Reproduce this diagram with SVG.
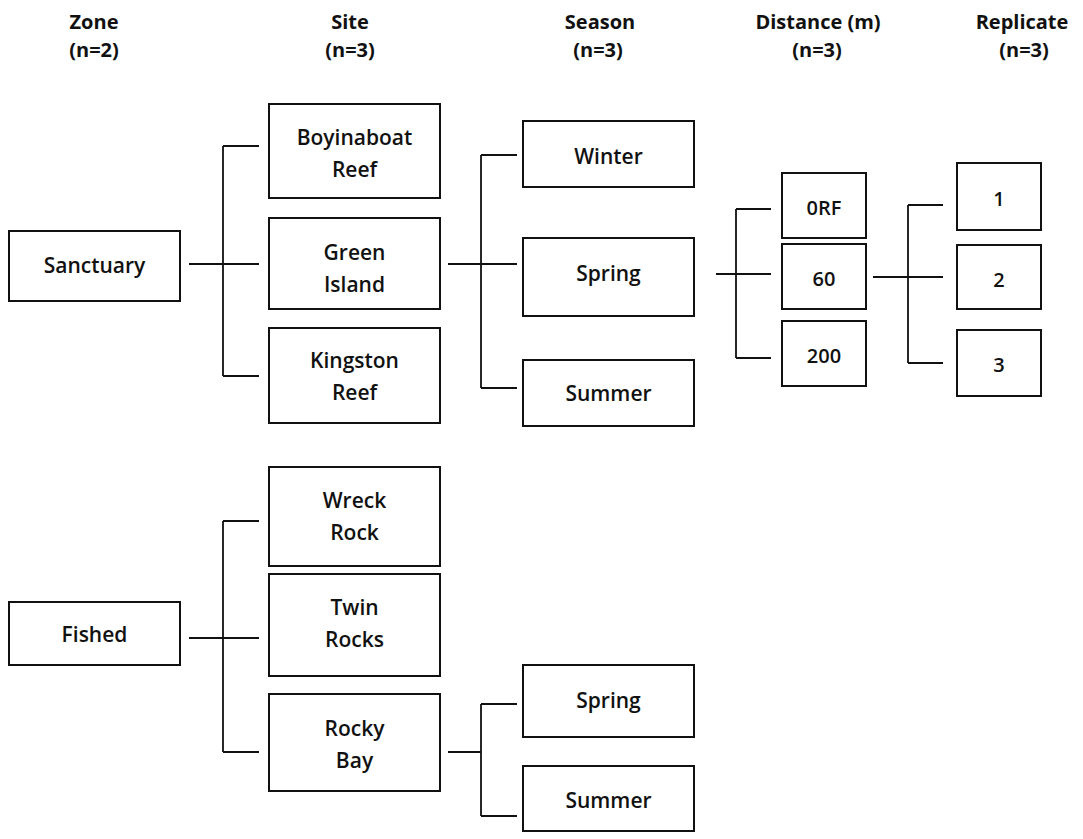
<svg xmlns="http://www.w3.org/2000/svg" width="1083" height="839" viewBox="0 0 1083 839">
<style>
  .box { fill: #ffffff; stroke: #111111; stroke-width: 2; }
  .lbl { font-family: "Open Sans", "Liberation Sans", sans-serif; font-size: 21px; font-weight: 600; fill: #111111; text-anchor: middle; }
  .sm { font-size: 20px; }
  .hdr { font-family: "Open Sans", "Liberation Sans", sans-serif; font-size: 20px; font-weight: 700; fill: #111111; text-anchor: middle; }
  .conn { fill: none; stroke: #111111; stroke-width: 1.8; }
</style>
<rect x="0" y="0" width="1083" height="839" fill="#ffffff"/>

<g id="headers">
  <text class="hdr" x="94" y="29">Zone</text>
  <text class="hdr" x="94" y="57">(n=2)</text>
  <text class="hdr" x="350" y="29">Site</text>
  <text class="hdr" x="350" y="57">(n=3)</text>
  <text class="hdr" x="600" y="29">Season</text>
  <text class="hdr" x="598" y="57">(n=3)</text>
  <text class="hdr" x="818" y="29">Distance (m)</text>
  <text class="hdr" x="817" y="57">(n=3)</text>
  <text class="hdr" x="1022" y="29">Replicate</text>
  <text class="hdr" x="1024" y="57">(n=3)</text>
</g>

<g id="connectors">
  <path class="conn" d="M189,264 H259 M223,146 V376 M223,146 H259 M223,376 H259"/>
  <path class="conn" d="M448,264 H517 M481,155 V388 M481,155 H517 M481,388 H517"/>
  <path class="conn" d="M716,274 H771 M736,209 V358 M736,209 H771 M736,358 H771"/>
  <path class="conn" d="M873,277 H943 M908,205 V363 M908,205 H943 M908,363 H943"/>
  <path class="conn" d="M189,638 H259 M223,521 V752 M223,521 H259 M223,752 H259"/>
  <path class="conn" d="M448,752 H481 M481,704 V816 M481,704 H517 M481,816 H517"/>
</g>

<g id="node-sanctuary">
  <rect class="box" x="9" y="231" width="171" height="70"/>
  <text class="lbl" x="94.5" y="273">Sanctuary</text>
</g>
<g id="node-fished">
  <rect class="box" x="9" y="602" width="171" height="63"/>
  <text class="lbl" x="94.5" y="642">Fished</text>
</g>

<g id="node-boyinaboat">
  <rect class="box" x="269" y="104" width="171" height="94"/>
  <text class="lbl" x="354.5" y="145">Boyinaboat</text>
  <text class="lbl" x="354.5" y="177">Reef</text>
</g>
<g id="node-green-island">
  <rect class="box" x="269" y="218" width="171" height="91"/>
  <text class="lbl" x="354.5" y="260">Green</text>
  <text class="lbl" x="354.5" y="292">Island</text>
</g>
<g id="node-kingston">
  <rect class="box" x="269" y="328" width="171" height="95"/>
  <text class="lbl" x="354.5" y="368">Kingston</text>
  <text class="lbl" x="354.5" y="400">Reef</text>
</g>
<g id="node-wreck-rock">
  <rect class="box" x="269" y="467" width="171" height="99"/>
  <text class="lbl" x="354.5" y="508">Wreck</text>
  <text class="lbl" x="354.5" y="540">Rock</text>
</g>
<g id="node-twin-rocks">
  <rect class="box" x="269" y="574" width="171" height="102"/>
  <text class="lbl" x="354.5" y="615">Twin</text>
  <text class="lbl" x="354.5" y="647">Rocks</text>
</g>
<g id="node-rocky-bay">
  <rect class="box" x="269" y="694" width="171" height="97"/>
  <text class="lbl" x="354.5" y="736">Rocky</text>
  <text class="lbl" x="354.5" y="768">Bay</text>
</g>

<g id="node-winter">
  <rect class="box" x="523" y="121" width="171" height="66"/>
  <text class="lbl" x="608.5" y="164">Winter</text>
</g>
<g id="node-spring">
  <rect class="box" x="523" y="238" width="171" height="78"/>
  <text class="lbl" x="608.5" y="281">Spring</text>
</g>
<g id="node-summer">
  <rect class="box" x="523" y="360" width="171" height="66"/>
  <text class="lbl" x="608.5" y="401">Summer</text>
</g>
<g id="node-spring-2">
  <rect class="box" x="523" y="665" width="171" height="72"/>
  <text class="lbl" x="608.5" y="708">Spring</text>
</g>
<g id="node-summer-2">
  <rect class="box" x="523" y="766" width="171" height="65"/>
  <text class="lbl" x="608.5" y="808">Summer</text>
</g>

<g id="node-orf">
  <rect class="box" x="782" y="173" width="84" height="65"/>
  <text class="lbl sm" x="824" y="215">0RF</text>
</g>
<g id="node-60">
  <rect class="box" x="782" y="244" width="84" height="65"/>
  <text class="lbl sm" x="824" y="286">60</text>
</g>
<g id="node-200">
  <rect class="box" x="782" y="321" width="84" height="65"/>
  <text class="lbl sm" x="824" y="363">200</text>
</g>

<g id="node-rep-1">
  <rect class="box" x="957" y="163" width="84" height="67"/>
  <text class="lbl sm" x="999" y="206">1</text>
</g>
<g id="node-rep-2">
  <rect class="box" x="957" y="245" width="84" height="64"/>
  <text class="lbl sm" x="999" y="287">2</text>
</g>
<g id="node-rep-3">
  <rect class="box" x="957" y="330" width="84" height="66"/>
  <text class="lbl sm" x="999" y="372">3</text>
</g>
</svg>
